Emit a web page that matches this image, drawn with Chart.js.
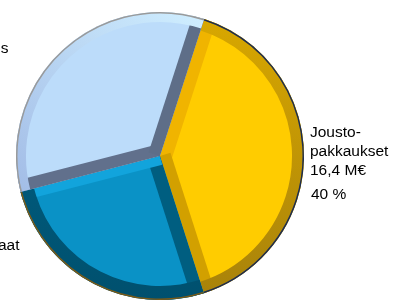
<!DOCTYPE html>
<html>
<head>
<meta charset="utf-8">
<script src="https://cdn.jsdelivr.net/npm/chart.js@4"></script>
<style>
  html, body { margin: 0; padding: 0; background: #fff; overflow: hidden; }
  #wrap { width: 394px; height: 302px; }
</style>
</head>
<body>
<div id="wrap"><canvas id="pie" width="394" height="302"></canvas></div>
<script>
// osuudet myötäpäivään ylhäältä alkaen
const sektorit = ['Jousto-pakkaukset', '…aat', '…s'];
const arvot = [16.4, 10.6, 13.9];           // M€
const tekstirivit = [['Jousto-', 'pakkaukset'], ['aat'], ['s']];
const aloitusKulma = 17.9;

const varit = ['#FFCC00', '#0A92C6', '#BCDCFA'];

// reunat: ulkokehä, alku- ja loppureuna
const viisteet = [
    { kehä: ['#D9A800', '#A8820A'], kehäW: 12, alku: '#F0B400', loppu: '#D2A000', alkuW: 12, loppuW: 11, viiva: '#1C2C52' },
    { kehä: ['#00658A', '#00506E'], kehäW: 14, alku: '#005E80', loppu: '#12A4DC', alkuW: 13, loppuW: 9, viiva: '#7A5A18' },
    { kehä: ['#A2BCE6', '#CFEEFF'], kehäW: 10, alku: '#61708C', loppu: '#5E6E88', alkuW: 12, loppuW: 12, viiva: '#9A9A9A' }
];

const viistePlugin = {
    id: 'viiste',
    afterDatasetDraw(chart) {
        const ctx = chart.ctx;
        const meta = chart.getDatasetMeta(0);
        meta.data.forEach((arc, i) => {
            const p = arc.getProps(['x', 'y', 'startAngle', 'endAngle', 'outerRadius'], true);
            const v = viisteet[i];
            ctx.save();
            ctx.beginPath();
            ctx.moveTo(p.x, p.y);
            ctx.arc(p.x, p.y, p.outerRadius, p.startAngle, p.endAngle);
            ctx.closePath();
            ctx.clip();

            // säteittäiset reunat
            const reuna = (kulma, vari, w) => {
                ctx.strokeStyle = vari;
                ctx.lineWidth = w * 2;
                ctx.beginPath();
                ctx.moveTo(p.x, p.y);
                ctx.lineTo(p.x + Math.cos(kulma) * p.outerRadius * 1.1, p.y + Math.sin(kulma) * p.outerRadius * 1.1);
                ctx.stroke();
            };
            reuna(p.startAngle, v.alku, v.alkuW);
            reuna(p.endAngle, v.loppu, v.loppuW);

            // ulkokehä
            let grad;
            if (i === 2) {
                grad = ctx.createLinearGradient(p.x - p.outerRadius, p.y + 40, p.x + 40, p.y - p.outerRadius);
            } else {
                grad = ctx.createLinearGradient(p.x, p.y - p.outerRadius, p.x, p.y + p.outerRadius);
            }
            grad.addColorStop(0, v.kehä[0]);
            grad.addColorStop(1, v.kehä[1]);
            ctx.strokeStyle = grad;
            ctx.lineWidth = v.kehäW * 2;
            ctx.beginPath();
            ctx.arc(p.x, p.y, p.outerRadius, p.startAngle, p.endAngle);
            ctx.stroke();

            ctx.strokeStyle = v.viiva;
            ctx.lineWidth = 3;
            ctx.beginPath();
            ctx.arc(p.x, p.y, p.outerRadius, p.startAngle, p.endAngle);
            ctx.stroke();
            ctx.restore();
        });
    }
};

const tekstiPlugin = {
    id: 'tekstit',
    afterDraw(chart) {
        const ctx = chart.ctx;
        const meta = chart.getDatasetMeta(0);
        const arc = meta.data[0];
        const summa = arvot.reduce((a, b) => a + b, 0);
        ctx.save();
        ctx.fillStyle = '#000';
        ctx.font = '15.5px "Liberation Sans", Arial, sans-serif';
        ctx.textBaseline = 'alphabetic';

        // oikea selite
        const x0 = arc.x + arc.outerRadius + 6;
        const y0 = arc.y - 19;
        ctx.textAlign = 'left';
        const rivit = [...tekstirivit[0], arvot[0].toFixed(1).replace('.', ',') + ' M€'];
        rivit.forEach((r, k) => ctx.fillText(r, x0, y0 + k * 19));
        ctx.fillText(Math.round(arvot[0] / summa * 100) + ' %', x0 + 1, y0 + 62);

        // vasemman reunan katkenneet selitteet
        ctx.textAlign = 'right';
        ctx.fillText(tekstirivit[1][0], 19.5, 250);
        ctx.fillText(tekstirivit[2][0], 8.5, 53);
        ctx.restore();
    }
};

new Chart(document.getElementById('pie'), {
    type: 'pie',
    data: {
        labels: sektorit,
        datasets: [{
            data: arvot,
            backgroundColor: varit,
            borderWidth: 0,
            hoverOffset: 0
        }]
    },
    options: {
        responsive: false,
        animation: false,
        rotation: aloitusKulma,
        layout: { padding: { left: 16, right: 90, top: 12, bottom: 2 } },
        plugins: { legend: { display: false }, tooltip: { enabled: false } }
    },
    plugins: [viistePlugin, tekstiPlugin]
});
</script>
</body>
</html>
